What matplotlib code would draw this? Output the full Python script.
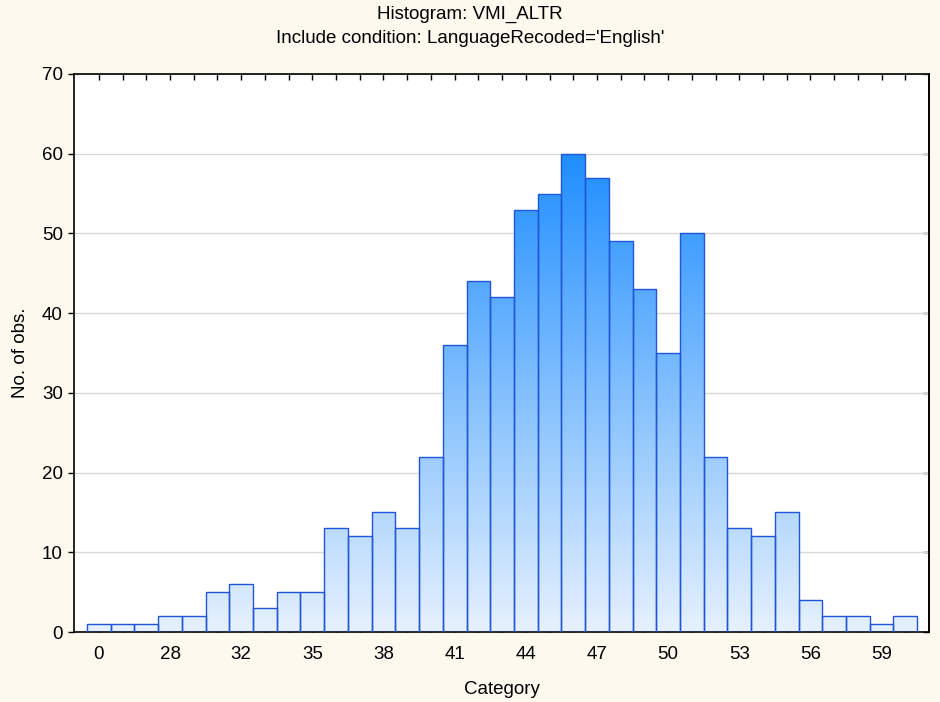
import numpy as np
import matplotlib
matplotlib.use("Agg")
import matplotlib.pyplot as plt
from matplotlib.colors import LinearSegmentedColormap
from matplotlib.ticker import FixedLocator

# histogram counts, one per category bin
counts = [1, 1, 1, 2, 2, 5, 6, 3, 5, 5, 13, 12, 15, 13, 22, 36, 44, 42,
          53, 55, 60, 57, 49, 43, 35, 50, 22, 13, 12, 15, 4, 2, 2, 1, 2]
# labels shown under every third bin
tick_labels = ["0", "28", "32", "35", "38", "41", "44", "47", "50", "53", "56", "59"]
label_step = 3

plt.rcParams['font.family'] = ['Liberation Sans', 'DejaVu Sans']
fs = 13.5

bg = "#fdf9ef"
cmap = LinearSegmentedColormap.from_list("statblue", ["#e6f1fd", "#1f8eff"])
edge = "#1f55d6"

fig = plt.figure(figsize=(9.4, 7.02), dpi=100, facecolor=bg)
ax = fig.add_axes([0.0787, 0.0997, 0.9096, 0.7949])
ax.set_facecolor("white")

x = np.arange(len(counts))
bars = ax.bar(x, counts, width=1.0, facecolor="none", edgecolor=edge,
              linewidth=1.0, zorder=3)

# vertical gradient tied to the y scale, clipped to each bar
grad = np.linspace(0, 1, 256).reshape(-1, 1)
for b in bars:
    im = ax.imshow(grad, cmap=cmap, origin="lower", aspect="auto",
                   extent=(b.get_x(), b.get_x() + b.get_width(), 0, 60),
                   zorder=2, interpolation="bilinear")
    im.set_clip_path(b)

ax.set_xlim(-1.05, 35.0)
ax.set_ylim(0, 70)

yt = np.arange(0, 71, 10)
ax.set_yticks(yt)
ax.yaxis.grid(True, color="#d9d9d9", linewidth=1.0, zorder=0)
ax.set_axisbelow(True)

ax.set_xticks(x[::label_step])
ax.set_xticklabels(tick_labels)
ax.xaxis.set_minor_locator(FixedLocator(x))
ax.tick_params(axis="x", which="major", direction="in", length=4, top=True,
               labelsize=fs, pad=10, width=1)
ax.tick_params(axis="x", which="minor", direction="in", length=4, top=True, width=1)
ax.tick_params(axis="y", direction="out", length=4, labelsize=fs, width=1, pad=4)

# inward ticks on the right edge
rax = ax.secondary_yaxis("right")
rax.set_yticks(yt)
rax.tick_params(direction="in", length=4, width=1, labelright=False)
rax.spines["right"].set_linewidth(1.2)

for s in ax.spines.values():
    s.set_color("black")
    s.set_linewidth(1.2)

ax.set_xlabel("Category", fontsize=fs, labelpad=13)
ax.set_ylabel("No. of obs.", fontsize=fs, labelpad=9)
fig.text(0.5, 0.980, "Histogram: VMI_ALTR", ha="center", va="center", fontsize=fs)
fig.text(0.5, 0.945, "Include condition: LanguageRecoded='English'", ha="center",
         va="center", fontsize=fs)

fig.savefig("out.png", dpi=100, facecolor=bg)
